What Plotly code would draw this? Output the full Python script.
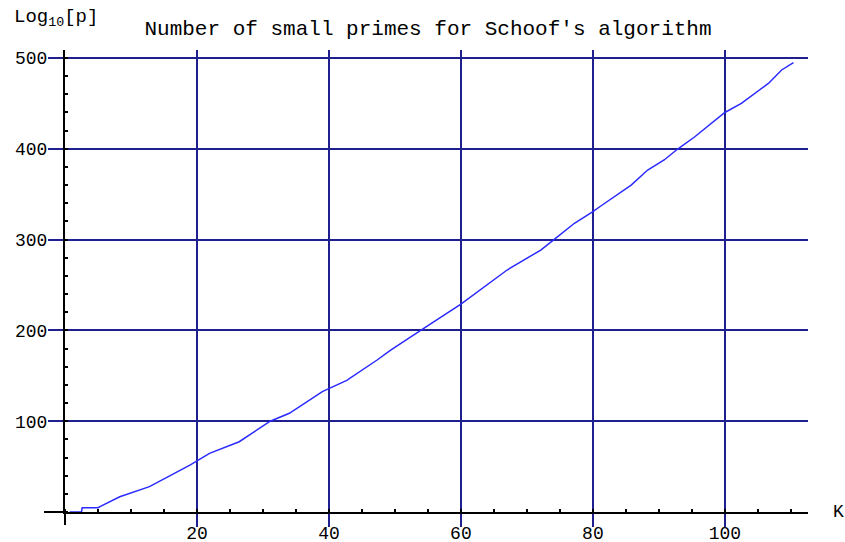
import plotly.graph_objects as go

# Data
K = [0.7, 2.5, 2.6, 5.0, 5.3, 8.3, 12.8, 19.0, 21.9, 26.4, 31.1, 34.0, 39.0,
     42.7, 47.3, 49.3, 53.9, 60.0, 67.0, 72.1, 74.1, 77.2, 80.0, 81.2, 85.8,
     88.3, 90.8, 92.9, 95.4, 100.0, 102.5, 106.6, 108.6, 110.4]
LOG10P = [0, 0, 4.7, 4.7, 6, 16.8, 27.9, 51.8, 64.6, 77.4, 100, 108.7, 132.5,
          145, 167.4, 178, 200, 229, 266.5, 288.5, 300, 318, 330.7, 337, 360,
          376.6, 387.7, 400, 413, 440, 450, 472, 486.8, 495]

X_TICKS = [20, 40, 60, 80, 100]
Y_TICKS = [100, 200, 300, 400, 500]
TITLE = "Number of small primes for Schoof's algorithm"

GRID = "#1f1f8f"
FONT = "Liberation Mono"

fig = go.Figure()
fig.add_trace(go.Scatter(x=K, y=LOG10P, mode="lines",
                         line=dict(color="#2a2aff", width=1.5),
                         showlegend=False, hoverinfo="skip"))

fig.update_layout(
    width=845, height=542,
    margin=dict(l=65, r=37, t=50, b=30, autoexpand=False),
    paper_bgcolor="white", plot_bgcolor="white",
    font=dict(family=FONT, size=18, color="black"),
    title=dict(text=TITLE, x=(428 - 65) / 743, xref="paper", y=1 - 28 / 542,
               yref="container", xanchor="center", yanchor="middle",
               font=dict(family=FONT, size=21, color="black")),
    xaxis=dict(range=[0, 112.6], tickvals=X_TICKS, showgrid=True, gridcolor=GRID,
               gridwidth=2, zeroline=False, showline=True, linecolor="black",
               linewidth=2, ticks="outside", ticklen=13, tickwidth=2, tickcolor=GRID,
               automargin=False, ticklabelstandoff=-10,
               minor=dict(dtick=5, ticks="inside", ticklen=3, tickcolor="black",
                          tickwidth=1.5, showgrid=False),
               tickfont=dict(family=FONT, size=18, color="black")),
    yaxis=dict(range=[0, 508.8], tickvals=Y_TICKS, showgrid=True, gridcolor=GRID,
               gridwidth=2, zeroline=False, showline=True, linecolor="black",
               linewidth=2, ticks="outside", ticklen=15, tickwidth=2, tickcolor=GRID,
               automargin=False, ticklabelstandoff=-3,
               minor=dict(dtick=20, ticks="inside", ticklen=3, tickcolor="black",
                          tickwidth=1.5, showgrid=False),
               tickfont=dict(family=FONT, size=18, color="black")),
    shapes=[
        dict(type="line", xref="paper", yref="paper", x0=-21 / 743, x1=0, y0=0, y1=0,
             line=dict(color="black", width=2)),
        dict(type="line", xref="paper", yref="paper", x0=0, x1=0, y0=-13 / 462, y1=0,
             line=dict(color="black", width=2)),
    ],
    annotations=[
        dict(text="Log<sub>10</sub>[p]", xref="paper", yref="paper",
             x=-53 / 743, y=1 + 32 / 462, xanchor="left", yanchor="middle",
             showarrow=False, font=dict(family=FONT, size=19, color="black")),
        dict(text="K", xref="paper", yref="y", x=1 + 30 / 743, y=0,
             xanchor="center", yanchor="middle", showarrow=False,
             font=dict(family=FONT, size=18, color="black")),
    ],
)

fig.write_html("out.html", config={"displayModeBar": False},
               post_script="document.body.style.margin='0';document.body.style.overflow='hidden';")
